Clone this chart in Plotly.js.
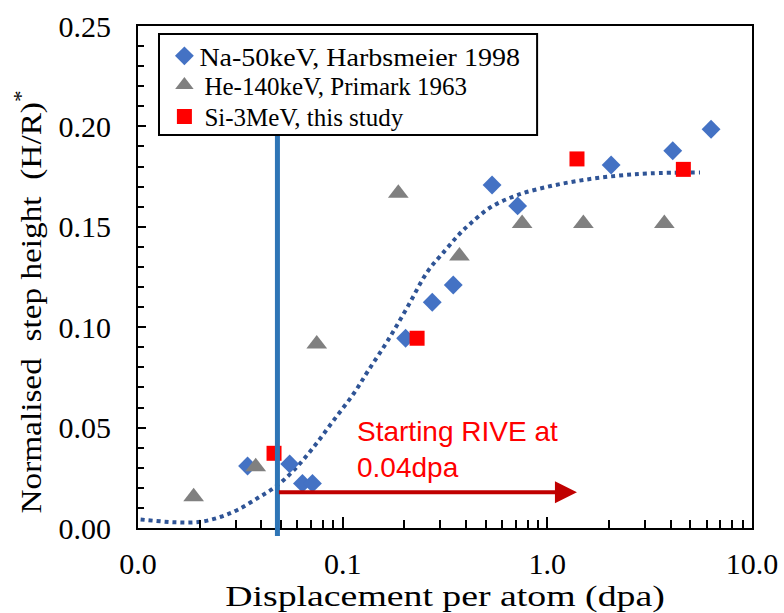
<!DOCTYPE html>
<html>
<head>
<meta charset="utf-8">
<script src="https://cdn.plot.ly/plotly-3.0.1.min.js"></script>
<style>html,body{margin:0;padding:0;background:#fff;}#chart{width:784px;height:613px;}</style>
</head>
<body>
<div id="chart"></div>
<script>
// Na-50keV, Harbsmeier 1998
var naX = [0.0343, 0.0551, 0.0636, 0.0712, 0.203, 0.274, 0.347, 0.537, 0.716, 2.05, 4.10, 6.31];
var naY = [0.0309, 0.0319, 0.0222, 0.0222, 0.0945, 0.1124, 0.121, 0.1708, 0.1604, 0.1808, 0.1879, 0.1986];
// He-140keV, Primark 1963
var heX = [0.0187, 0.0376, 0.0747, 0.187, 0.372, 0.753, 1.50, 3.73];
var heY = [0.0156, 0.0305, 0.0916, 0.1667, 0.1355, 0.1517, 0.1517, 0.1517];
// Si-3MeV, this study
var siX = [0.0462, 0.231, 1.396, 4.62];
var siY = [0.0372, 0.0945, 0.1838, 0.1786];
// dotted trend line
var trendX = [0.0086, 0.0120, 0.0156, 0.0203, 0.0254, 0.0306, 0.0383, 0.0471, 0.0579, 0.0724, 0.0906, 0.1135, 0.134, 0.166, 0.2077, 0.2595, 0.3178, 0.368, 0.4217, 0.5276, 0.7135, 1.04, 1.50, 2.18, 3.17, 5.57];
var trendY = [0.0051, 0.0036, 0.0028, 0.0031, 0.0056, 0.0090, 0.0148, 0.0206, 0.0289, 0.0405, 0.0538, 0.0671, 0.0787, 0.0933, 0.1102, 0.1276, 0.1384, 0.1459, 0.1517, 0.1597, 0.1658, 0.1703, 0.1733, 0.1754, 0.1766, 0.1771];
// onset of RIVE and arrow
var riveX = 0.048;
var arrowEndX = 1.395;
var arrowY = 0.0178;
var legendNames = ['Na-50keV, Harbsmeier 1998', 'He-140keV, Primark 1963', 'Si-3MeV, this study'];
var noteText = 'Starting RIVE at<br>0.04dpa';
var xTitle = 'Displacement per atom (dpa)';
var yTitle = 'Normalised  step height  (H/R)<sup>*</sup>';

var serif = 'Liberation Serif';

var traces = [
  {x: trendX, y: trendY, mode: 'lines', type: 'scatter', showlegend: false,
   line: {color: '#2f5496', width: 4, dash: '4px,4px', shape: 'spline'}},
  {x: naX, y: naY, mode: 'markers', type: 'scatter', name: legendNames[0], legend: 'legend',
   marker: {symbol: 'diamond', size: 14.5, color: '#4472c4'}},
  {x: heX, y: heY, mode: 'markers', type: 'scatter', name: legendNames[1], legend: 'legend2',
   marker: {symbol: 'triangle-up', size: 18, color: '#808080'}},
  {x: siX, y: siY, mode: 'markers', type: 'scatter', name: legendNames[2], legend: 'legend3',
   marker: {symbol: 'square', size: 15, color: '#ff0000'}}
];

function legendAt(yPaper) {
  return {x: 0.043, y: yPaper, xanchor: 'left', yanchor: 'middle', bgcolor: 'rgba(0,0,0,0)',
    borderwidth: 0, font: {family: serif, size: 25, color: '#000'}, itemwidth: 30};
}

var layout = {
  width: 784, height: 613,
  margin: {l: 138, r: 32, t: 26, b: 85},
  paper_bgcolor: '#fff', plot_bgcolor: '#fff',
  font: {family: serif, color: '#000'},
  showlegend: true,
  legend: legendAt(0.940),
  legend2: legendAt(0.882),
  legend3: legendAt(0.819),
  xaxis: {
    type: 'log', range: [-2, 1], tickmode: 'linear', tick0: 0, dtick: 1, tickformat: '.1f',
    ticks: 'inside', ticklen: 11, tickwidth: 2, tickcolor: '#000',
    minor: {dtick: 'D1', ticks: 'inside', ticklen: 8, tickwidth: 2, tickcolor: '#000', showgrid: false},
    showline: true, linewidth: 2, linecolor: '#000', mirror: true,
    showgrid: false, zeroline: false,
    tickfont: {family: serif, size: 30, color: '#000'}, ticklabelstandoff: 8,
    title: {text: xTitle, font: {family: serif, size: 30, color: '#000'}, standoff: 11}
  },
  yaxis: {
    range: [0, 0.25], tickmode: 'linear', tick0: 0, dtick: 0.05, tickformat: '.2f',
    ticks: 'inside', ticklen: 8, tickwidth: 2, tickcolor: '#000',
    minor: {dtick: 0.01, ticks: 'inside', ticklen: 6, tickwidth: 2, tickcolor: '#000', showgrid: false},
    showline: true, linewidth: 2, linecolor: '#000', mirror: true,
    showgrid: false, zeroline: false,
    tickfont: {family: serif, size: 30, color: '#000'}, ticklabelstandoff: 19,
    title: {text: yTitle, font: {family: serif, size: 30, color: '#000'}, standoff: 8}
  },
  shapes: [
    {type: 'line', xref: 'x', yref: 'paper', x0: riveX, x1: riveX, y0: -0.016, y1: 0.85,
     line: {color: '#2e75b6', width: 5}, layer: 'above'},
    {type: 'rect', xref: 'paper', yref: 'paper', x0: 0.0342, x1: 0.65, y0: 0.783, y1: 0.984,
     fillcolor: '#fff', line: {color: '#000', width: 2}, layer: 'above'}
  ],
  annotations: [
    {xref: 'x', yref: 'y', axref: 'x', ayref: 'y',
     x: Math.log10(arrowEndX), y: arrowY, ax: Math.log10(riveX), ay: arrowY,
     text: '', showarrow: true, arrowhead: 2, arrowsize: 1.1, arrowwidth: 4, arrowcolor: '#c00000'},
    {xref: 'paper', yref: 'paper', x: 0.354, y: 0.156, xanchor: 'left', yanchor: 'middle', align: 'left',
     text: noteText, showarrow: false, font: {family: 'Liberation Sans', size: 28, color: '#ff0000'}}
  ]
};

// the reference renders its serif texts wider than Times; widen them along their baseline
function widen(selector, sx, shift) {
  document.querySelectorAll(selector).forEach(function (t) {
    var x = parseFloat(t.getAttribute('x')) || 0;
    var y = parseFloat(t.getAttribute('y')) || 0;
    var tr = t.getAttribute('transform') || '';
    t.setAttribute('transform', tr + ' translate(' + (x + (shift || 0)) + ',' + y + ') scale(' + sx + ',1) translate(' + (-x) + ',' + (-y) + ')');
  });
}

Plotly.newPlot('chart', traces, layout, {displayModeBar: false, staticPlot: true}).then(function () {
  widen('#chart .xtitle', 1.26, 0);
  widen('#chart .ytitle', 1.11, -25);
  widen('#chart .legendtext', 1.12, -5);
  document.querySelectorAll('#chart .legend .scrollbox').forEach(function (s) {
    s.removeAttribute('clip-path');
    s.style.clipPath = 'none';
  });
});
</script>
</body>
</html>
